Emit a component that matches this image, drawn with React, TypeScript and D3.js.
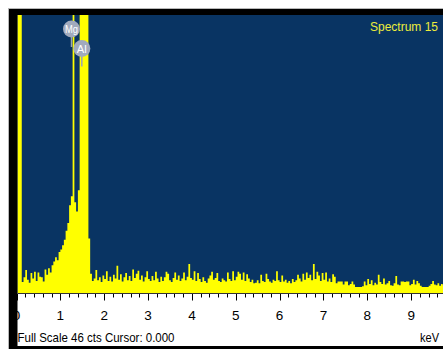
import React from "react";
import * as d3 from "d3";

// EDS spectrum: counts per 0.04 keV channel, starting at 0 keV
const CHANNEL_KEV = 0.04;
const counts: number[] = [
  180, 180, 180, 1.8, 2.6, 3.8, 2.2, 1.7, 3.3, 2.4,
  3.5, 2.0, 3.4, 2.7, 2.6, 1.9, 3.9, 3.0, 4.1, 3.4,
  4.6, 5.2, 5.9, 5.4, 6.8, 7.2, 7.9, 8.8, 10.3, 11.6,
  14.5, 16, 95, 15, 13.5, 17, 160, 160, 160, 160,
  160, 9, 3.2, 2.0, 2.4, 3.8, 2.1, 2.6, 1.8, 2.9,
  2.3, 3.6, 2.0, 2.7, 1.9, 3.0, 2.4, 4.5, 2.2, 3.1,
  1.9, 2.6, 3.3, 2.1, 2.8, 2.0, 3.9, 2.5, 3.2, 3.7,
  2.2, 2.9, 1.9, 2.6, 3.6, 2.3, 2.0, 2.8, 2.1, 3.5,
  2.4, 1.8, 2.7, 2.0, 2.6, 3.5, 3.2, 2.1, 1.8, 2.5,
  3.4, 2.2, 2.9, 2.0, 2.4, 3.4, 2.1, 2.7, 4.8, 2.5,
  2.2, 3.6, 2.0, 3.3, 2.3, 1.8, 2.6, 2.0, 1.7, 2.4,
  2.9, 3.5, 2.2, 2.5, 3.3, 2.0, 1.8, 2.4, 2.1, 1.9,
  3.4, 2.3, 2.0, 3.6, 2.1, 2.7, 3.5, 3.2, 2.2, 3.4,
  2.0, 3.1, 2.4, 1.8, 2.2, 1.6, 1.7, 2.1, 1.6, 3.0,
  2.0, 1.8, 3.2, 2.3, 1.9, 1.7, 2.2, 2.0, 3.6, 2.1,
  1.8, 2.9, 1.9, 2.2, 1.7, 2.0, 1.6, 2.3, 1.8, 2.1,
  3.0, 2.4, 1.9, 3.2, 2.2, 3.4, 2.5, 3.0, 2.1, 4.8,
  2.3, 3.5, 2.9, 2.0, 3.3, 2.2, 3.4, 1.9, 2.4, 1.8,
  3.1, 2.7, 1.6, 1.9, 1.9, 1.9, 1.4, 1.9, 1.9, 1.3,
  1.5, 1.9, 1.4, 1.0, 1.0, 1.0, 1.0, 1.1, 1.9, 1.3,
  2.3, 1.5, 2.1, 1.3, 1.7, 1.4, 3.0, 1.8, 1.5, 2.4,
  1.4, 1.6, 2.0, 1.3, 1.2, 1.6, 2.8, 1.4, 1.3, 1.9,
  1.9, 1.8, 1.9, 1.9, 1.3, 1.5, 2.2, 1.4, 2.0, 1.6,
  1.2, 1.0, 1.0, 1.0, 1.0, 1.2, 1.5, 2.0, 1.4, 1.3,
  1.6, 1.2, 1.5, 1.3, 1.4,
];

// Element line markers
const peakLabels = ["Mg", "Al"];
const peakEnergies = [1.254, 1.49];
const peakRows = [0, 1];

const majorTicks = [0, 1, 2, 3, 4, 5, 6, 7, 8, 9];
const spectrumTitle = "Spectrum 15";
const fullScaleText = "Full Scale 46 cts Cursor: 0.000";
const FULL_SCALE = 46;

const W = 443;
const H = 349;
const PLOT = { left: 17.5, top: 15, right: 443, bottom: 293 };
const FONT = "'Liberation Sans Narrow','Arial Narrow','Liberation Sans',Arial,sans-serif";
const BG = "#093463";
const FILL = "#ffff00";

export default function App() {
  const x = d3.scaleLinear().domain([0, 10]).range([16.5, 16.5 + 438.5]);
  const y = d3.scaleLinear().domain([0, FULL_SCALE]).range([PLOT.bottom, PLOT.top]);

  const pts: [number, number][] = counts.map((c, i) => [i * CHANNEL_KEV, c]);
  pts.push([counts.length * CHANNEL_KEV, counts[counts.length - 1]]);

  const area = d3
    .area<[number, number]>()
    .x((d) => x(d[0]))
    .y0(y(0))
    .y1((d) => y(Math.min(d[1], FULL_SCALE * 1.2)))
    .curve(d3.curveStepAfter);

  const minorTicks = d3.range(0, 49).map((i) => i * 0.2);

  return (
    <svg
      width={W}
      height={H}
      style={{ position: "absolute", left: 0, top: 0, background: "#fff" }}
    >
      <defs>
        <clipPath id="plotClip">
          <rect
            x={PLOT.left}
            y={PLOT.top}
            width={PLOT.right - PLOT.left}
            height={PLOT.bottom - PLOT.top}
          />
        </clipPath>
      </defs>

      {/* plot background and spectrum */}
      <rect
        x={PLOT.left}
        y={PLOT.top}
        width={PLOT.right - PLOT.left}
        height={PLOT.bottom - PLOT.top}
        fill={BG}
      />
      <path d={area(pts) || ""} fill={FILL} clipPath="url(#plotClip)" />

      {/* element markers */}
      {peakLabels.map((lab, i) => {
        const cx = x(peakEnergies[i]);
        const cy = 29 + peakRows[i] * 19.5;
        return (
          <g key={lab}>
            <line
              x1={cx}
              x2={cx}
              y1={cy + 8}
              y2={cy + 18}
              stroke="#9aa3b6"
              strokeWidth={1.5}
            />
            <circle cx={cx} cy={cy} r={8.5} fill="#a1aabd" />
            <text
              x={cx}
              y={cy}
              dy="0.36em"
              textAnchor="middle"
              fontFamily={FONT}
              fontSize={11.5}
              textLength={lab === "Mg" ? 13 : 10}
              lengthAdjust="spacingAndGlyphs"
              fill="#ffffff"
            >
              {lab}
            </text>
          </g>
        );
      })}

      <text
        x={438}
        y={31}
        textAnchor="end"
        fontFamily={FONT}
        fontSize={12}
        fill="#ecec3c"
      >
        {spectrumTitle}
      </text>

      {/* energy axis */}
      <line x1={PLOT.left} x2={W} y1={293.5} y2={293.5} stroke="#333" strokeWidth={1} />
      {minorTicks.map((t) => {
        const major = Math.abs(t - Math.round(t)) < 1e-6;
        return (
          <line
            key={t}
            x1={Math.round(x(t)) + 0.5}
            x2={Math.round(x(t)) + 0.5}
            y1={294}
            y2={major ? 300.5 : 297.5}
            stroke="#000"
            strokeWidth={1}
          />
        );
      })}
      {majorTicks.map((t) => (
        <text
          key={t}
          x={x(t)}
          y={320}
          textAnchor="middle"
          fontFamily={FONT}
          fontSize={13.5}
          fill="#000"
        >
          {t}
        </text>
      ))}
      <text
        x={17.5}
        y={341.5}
        fontFamily={FONT}
        fontSize={13.5}
        textLength={157}
        lengthAdjust="spacingAndGlyphs"
        fill="#000"
      >
        {fullScaleText}
      </text>
      <text
        x={420}
        y={341.5}
        fontFamily={FONT}
        fontSize={13.5}
        textLength={19}
        lengthAdjust="spacingAndGlyphs"
        fill="#000"
      >
        keV
      </text>

      {/* window frame */}
      <line x1={8.5} x2={8.5} y1={8} y2={H} stroke="#b8b8b8" />
      <line x1={8} x2={W} y1={8.5} y2={8.5} stroke="#b8b8b8" />
      <rect x={9} y={9} width={8.5} height={H - 9} fill="#000" />
      <rect x={9} y={9} width={W - 9} height={6} fill="#000" />
      <rect x={9} y={346} width={W - 9} height={3} fill="#000" />
    </svg>
  );
}
